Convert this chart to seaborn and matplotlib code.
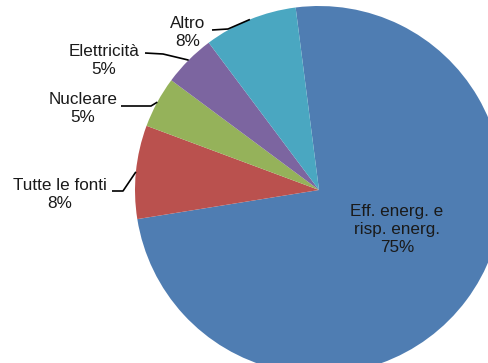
import numpy as np
import matplotlib
matplotlib.use("Agg")
import matplotlib.pyplot as plt
import seaborn as sns

# data (shares of the total, percent)
categories = ["Eff. energ. e\nrisp. energ.", "Tutte le fonti", "Nucleare", "Elettricità", "Altro"]
shares = [74.5, 8.2, 4.5, 4.6, 8.2]
colors = ["#4f7db2", "#ba514e", "#95b25a", "#7c65a0", "#4aa7c1"]

sns.set_theme(style="white")
plt.rcParams['font.family'] = ['Liberation Sans', 'DejaVu Sans']

W, H = 489, 363
CX, CY, R = 319, 190, 184


def to_data(px, py):
    # pixel position (from top-left) -> pie data coords
    return (px - CX) / R, (CY - py) / R


fig = plt.figure(figsize=(W / 100, H / 100), dpi=100)
ax = fig.add_axes([0, 0, 1, 1])

start = 97.3
wedges, _ = ax.pie(shares, colors=colors, startangle=start, counterclock=False,
                   wedgeprops=dict(linewidth=0))

ax.set_xlim(-CX / R, (W - CX) / R)
ax.set_ylim(-(H - CY) / R, CY / R)
ax.set_aspect('equal')
ax.axis('off')

total = sum(shares)
pct = [int(s / total * 100 + 0.5) for s in shares]

# label centres and leader lines (pixel positions), None for inside label
label_pos = [(397, 230), (60, 195), (83, 109), (104, 60), (188, 33)]
leader = [None, [(112, 191), (123, 191)], [(121, 106), (151, 106)],
          [(145, 53), (163, 54)], [(212, 30), (228, 29)]]

for i, w in enumerate(wedges):
    mid = np.deg2rad((w.theta1 + w.theta2) / 2)
    x, y = to_data(*label_pos[i])
    ax.text(x, y, f"{categories[i]}\n{pct[i]}%", ha='center', va='center',
            fontsize=12.3, color='#1a1a1a', linespacing=1.25)
    if leader[i] is not None:
        pts = [to_data(*p) for p in leader[i]]
        pts.append((np.cos(mid), np.sin(mid)))
        xs, ys = zip(*pts)
        ax.plot(xs, ys, color='black', lw=1.2, solid_capstyle='butt')

fig.savefig("out.png", dpi=100)
